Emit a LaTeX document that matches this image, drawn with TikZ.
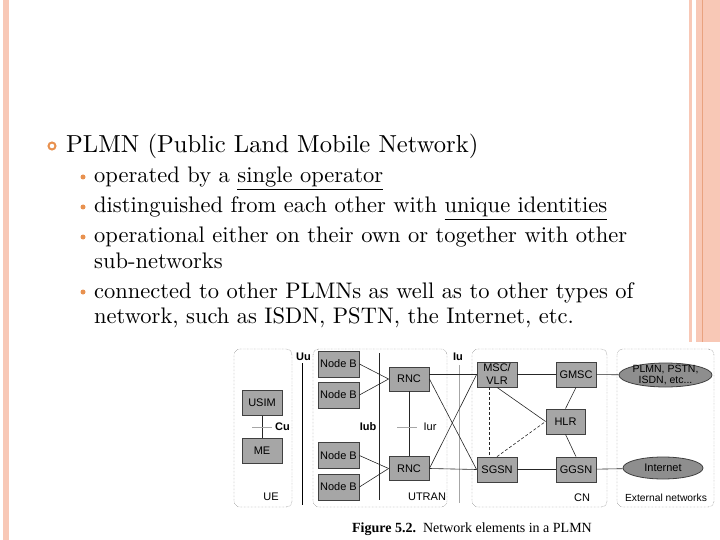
\documentclass[tikz,border=0pt]{standalone}
\usepackage{fontspec}
\newfontfamily\slidefont{lmroman10-regular.otf}
\newfontfamily\netfont{Liberation Sans}
\newfontfamily\capfont{Liberation Serif}
\usetikzlibrary{shapes.geometric}
\definecolor{stripe}{HTML}{F8C8B6}
\definecolor{stripedark}{HTML}{E9A27F}
\definecolor{bulletorange}{HTML}{E8914F}
\definecolor{elemgray}{HTML}{A6A6A6}
\definecolor{cloudgray}{HTML}{8E8E8E}

\begin{document}
\begin{tikzpicture}[x=1pt,y=-1pt]
  \tikzset{elem/.style = {shape=rectangle,draw=black!75,line width=0.8pt,fill=elemgray,minimum width=40pt,minimum height=25pt,inner sep=0pt,font=\netfont\fontsize{11}{12}\selectfont}}
  \tikzset{cloud/.style = {shape=ellipse,draw=black!75,line width=0.8pt,fill=cloudgray,inner sep=0pt}}
  \tikzset{netzone/.style = {draw=black!70,densely dotted,rounded corners=6pt}}
  \tikzset{tag/.style = {font=\netfont\fontsize{11}{12}\selectfont,inner sep=0pt}}
  \tikzset{tagb/.style = {tag,font=\netfont\bfseries\fontsize{11}{12}\selectfont}}
  \tikzset{link/.style = {draw=black!85,line width=0.6pt}}
  \tikzset{iface/.style = {draw=black!35,line width=1pt}}
  \tikzset{headline/.style = {anchor=base west,inner sep=0pt,font=\slidefont\fontsize{24.6}{28}\selectfont}}
  \tikzset{subline/.style = {anchor=base west,inner sep=0pt,font=\slidefont\fontsize{22.5}{25}\selectfont}}
  \useasboundingbox (0,0) rectangle (720,540);

  % slide frame
  \fill[stripe] (3,0) rectangle (9,540);
  \fill[stripe] (689,0) rectangle (692,342);
  \fill[stripe] (696,0) rectangle (720,342);
  \draw[stripedark] (702.5,0) -- (702.5,342);

  % bullet text
  \draw[bulletorange,line width=2pt] (52,146) circle (3.5pt);
  \node[headline] (head) at (66,153) {PLMN (Public Land Mobile Network)};
  \foreach \y in {183,213,243,298}
    \fill[bulletorange] (83,\y-6) circle (2.5pt);
  \node[subline] (item1) at (94,183) {operated by a \underline{single operator}};
  \node[subline] (item2) at (94,213) {distinguished from each other with \underline{unique identities}};
  \node[subline] (item3a) at (94,243) {operational either on their own or together with other};
  \node[subline] (item3b) at ([yshift=-25pt]item3a.base west) {sub-networks};
  \node[subline] (item4a) at (94,298) {connected to other PLMNs as well as to other types of};
  \node[subline] (item4b) at ([yshift=-25pt]item4a.base west) {network, such as ISDN, PSTN, the Internet, etc.};

  % domains
  \draw[netzone] (234,349) rectangle (292,507);
  \draw[netzone] (313,349) rectangle (447,507);
  \draw[netzone] (472,349) rectangle (607,507);
  \draw[netzone] (617,349) rectangle (714,507);

  % reference points
  \draw[black,line width=0.8pt] (302,363) -- (302,505);
  \draw[link] (379,353) -- (379,500);
  \draw[iface] (459,365) -- (459,503);

  % UE
  \node[elem] (usim) at (262,403) {USIM};
  \node[elem] (me) at (262,451) {ME};
  \draw[link] (usim) -- (me);
  \draw[iface] (252,427) -- (272,427);

  % UTRAN
  \node[elem,minimum width=41pt,minimum height=26pt] (nb1) at (338.5,364) {Node B};
  \node[elem,minimum width=41pt,minimum height=26pt] (nb2) at (338.5,395) {Node B};
  \node[elem,minimum width=41pt,minimum height=26pt] (nb3) at (338.5,455.5) {Node B};
  \node[elem,minimum width=41pt,minimum height=26pt] (nb4) at (338.5,487) {Node B};
  \node[elem,minimum height=24pt] (rnc1) at (409,379) {RNC};
  \node[elem,minimum height=24pt] (rnc2) at (409,468.5) {RNC};
  \draw[link] (rnc1) -- (rnc2);
  \draw[iface] (397,427) -- (417,427);

  % CN
  \node[elem,align=center,font=\netfont\fontsize{11}{13}\selectfont] (msc) at (497,374.5) {MSC/\\VLR};
  \node[elem] (gmsc) at (576,374.5) {GMSC};
  \node[elem,minimum width=39pt] (hlr) at (565.5,421.5) {HLR};
  \node[elem] (sgsn) at (497,469.5) {SGSN};
  \node[elem] (ggsn) at (576,469.5) {GGSN};

  % external networks
  \node[cloud,minimum width=93pt,minimum height=24pt] (plmn) at (665.5,375) {};
  \node[tag,align=center,font=\netfont\fontsize{10.5}{10.5}\selectfont] at (plmn) {PLMN, PSTN,\\ISDN, etc...};
  \node[cloud,minimum width=80pt,minimum height=22pt] (inet) at (663,468) {};
  \node[tag] at (inet) {Internet};

  \foreach \from/\to in {nb1.east/rnc1.west,nb2.east/rnc1.west,nb3.east/rnc2.west,nb4.east/rnc2.west,rnc1.east/sgsn.west,rnc2.east/msc.west,rnc2.east/sgsn.west,msc/gmsc,msc.south/hlr.west,gmsc.south/hlr.north,hlr.south/ggsn.north,sgsn/ggsn,ggsn/inet,gmsc/plmn}
    \path[link] (\from) edge (\to);
  \draw[link] (rnc1.east |- msc.west) -- (msc.west);
  \draw[link,dash pattern=on 3pt off 2pt] ([xshift=-8pt]msc.south) -- ([xshift=-8pt]sgsn.north);
  \draw[link,dash pattern=on 3pt off 2pt] (sgsn.north) -- (hlr.west);

  % labels
  \node[tagb] (uu) at (303.5,357) {Uu};
  \node[tagb,anchor=west] (cu) at (275,427) {Cu};
  \node[tagb] (iub) at (368,427) {Iub};
  \node[tag] (iur) at (430,427) {Iur};
  \node[tagb] (iu) at (458,357) {Iu};
  \node[tag] (ue) at (271,497) {UE};
  \node[tag] (utran) at (427,497) {UTRAN};
  \node[tag] (cn) at (582,498) {CN};
  \node[tag,font=\netfont\fontsize{10.3}{12}\selectfont] (ext) at (666,498) {External networks};

  \node[font=\capfont\fontsize{14}{15}\selectfont] (caption) at (472,529) {\textbf{Figure 5.2.}\ \ Network elements in a PLMN};
\end{tikzpicture}
\end{document}
